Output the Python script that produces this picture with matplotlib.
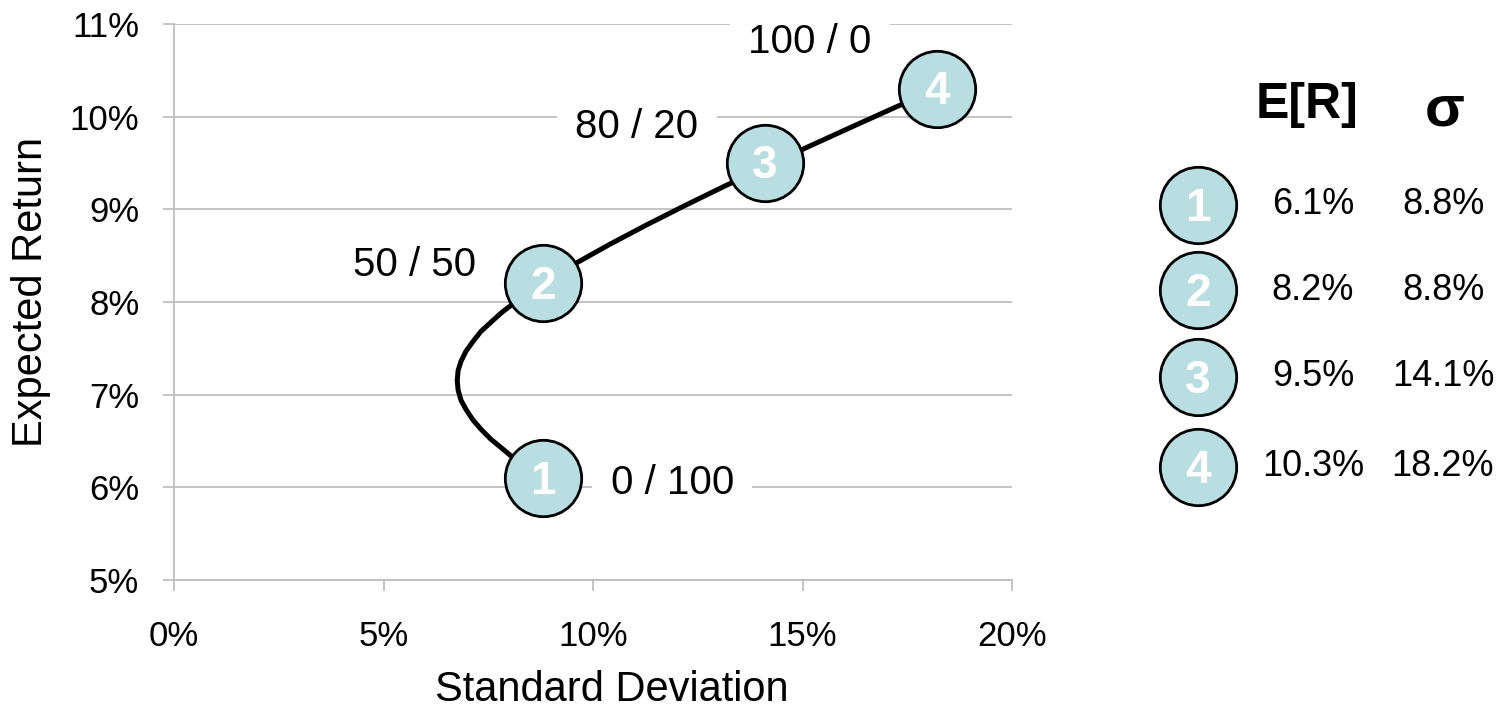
import matplotlib
matplotlib.use("Agg")
import matplotlib.pyplot as plt

plt.rcParams['font.family'] = ['Liberation Sans', 'DejaVu Sans']

# ---- data ----
portfolio_ids = ["1", "2", "3", "4"]
portfolio_sd = [8.8, 8.8, 14.1, 18.2]      # standard deviation, %
portfolio_er = [6.1, 8.2, 9.5, 10.3]       # expected return, %
mix_labels = ["0 / 100", "50 / 50", "80 / 20", "100 / 0"]
table_er = ["6.1%", "8.2%", "9.5%", "10.3%"]
table_sd = ["8.8%", "8.8%", "14.1%", "18.2%"]

# frontier curve
curve_sd = [8.80, 8.45, 8.12, 7.83, 7.56, 7.32, 7.13, 6.97, 6.85, 6.78, 6.76,
            6.78, 6.85, 6.97, 7.13, 7.32, 7.56, 7.83, 8.12, 8.45, 8.80,
            9.56, 10.39, 11.27, 12.19, 13.14, 14.12, 15.11, 16.13, 17.16, 18.20]
curve_er = [6.10, 6.21, 6.31, 6.42, 6.52, 6.63, 6.73, 6.84, 6.94, 7.05, 7.15,
            7.26, 7.36, 7.47, 7.57, 7.68, 7.78, 7.89, 7.99, 8.10, 8.20,
            8.41, 8.62, 8.83, 9.04, 9.25, 9.46, 9.67, 9.88, 10.09, 10.30]

x_ticks = [0, 5, 10, 15, 20]
x_ticklabels = ["0%", "5%", "10%", "15%", "20%"]
y_ticks = [5, 6, 7, 8, 9, 10, 11]
y_ticklabels = ["5%", "6%", "7%", "8%", "9%", "10%", "11%"]

# ---- style ----
FILL = '#B8DEE2'
GRID = '#BFBFBF'
W, H = 1503, 709
MS = 55
MEW = 2.0
NUM_FS = 33

fig = plt.figure(figsize=(W / 100, H / 100), dpi=100)
ax = fig.add_axes([174 / W, 129 / H, 838 / W, 556 / H])
ax.set_xlim(0, 20)
ax.set_ylim(5, 11)
ax.set_axisbelow(True)
ax.yaxis.grid(True, color=GRID, lw=1.3)
for s in ['top', 'right']:
    ax.spines[s].set_visible(False)
for s in ['left', 'bottom']:
    ax.spines[s].set_color(GRID)
    ax.spines[s].set_linewidth(1.3)
ax.set_xticks(x_ticks)
ax.set_xticklabels(x_ticklabels)
ax.set_yticks(y_ticks)
ax.set_yticklabels(y_ticklabels)
ax.tick_params(axis='both', direction='out', length=8, width=1.3, color=GRID,
               labelsize=25)
ax.tick_params(axis='x', pad=21)
ax.tick_params(axis='y', pad=17)

ax.plot(curve_sd, curve_er, color='black', lw=3.6, zorder=3, solid_capstyle='round')

# mix labels (annotation positions); the 50/50 label sits clear of gridlines
label_pos = [(11.89, 6.05), (5.75, 8.40), (11.05, 9.89), (15.18, 10.81)]
label_box = [True, False, True, True]
for lab, (lx, ly), boxed in zip(mix_labels, label_pos, label_box):
    kw = dict(bbox=dict(boxstyle='square,pad=0.45', fc='white', ec='none')) if boxed else {}
    ax.text(lx, ly, lab, fontsize=29, ha='center', va='center', zorder=3.5, **kw)

ax.plot(portfolio_sd, portfolio_er, linestyle='none', marker='o', markersize=MS,
        markerfacecolor=FILL, markeredgecolor='black', markeredgewidth=MEW, zorder=4)
for pid, sx, sy in zip(portfolio_ids, portfolio_sd, portfolio_er):
    ax.annotate(pid, (sx, sy), xytext=(0, -2.5), textcoords='offset points',
                fontsize=NUM_FS, fontweight='bold', color='white',
                ha='center', va='center', zorder=5)

fig.text(31 / W, 1 - 292 / H, "Expected Return", rotation=90, fontsize=30,
         ha='center', va='center')
fig.text(612 / W, 1 - 690 / H, "Standard Deviation", fontsize=30,
         ha='center', va='center')

# ---- side table ----
ax2 = fig.add_axes([0, 0, 1, 1], facecolor='none')
ax2.set_xlim(0, W)
ax2.set_ylim(H, 0)
ax2.axis('off')
col_circle, col_er, col_sd = 1198, 1313, 1443
row_y = [205, 290, 377, 467]
ax2.text(1307, 105, "E[R]", fontsize=36, fontweight='bold', ha='center', va='center')
ax2.text(1445, 110, "σ", fontsize=42, fontweight='bold', ha='center', va='center')
ax2.plot([col_circle] * len(row_y), row_y, linestyle='none', marker='o', markersize=MS,
         markerfacecolor=FILL, markeredgecolor='black', markeredgewidth=MEW)
for pid, ry, er, sd in zip(portfolio_ids, row_y, table_er, table_sd):
    ax2.text(col_circle, ry + 4, pid, fontsize=NUM_FS, fontweight='bold', color='white',
             ha='center', va='center')
    ax2.text(col_er, ry, er, fontsize=26, ha='center', va='center')
    ax2.text(col_sd, ry, sd, fontsize=26, ha='center', va='center')

fig.savefig('out.png', dpi=100)
